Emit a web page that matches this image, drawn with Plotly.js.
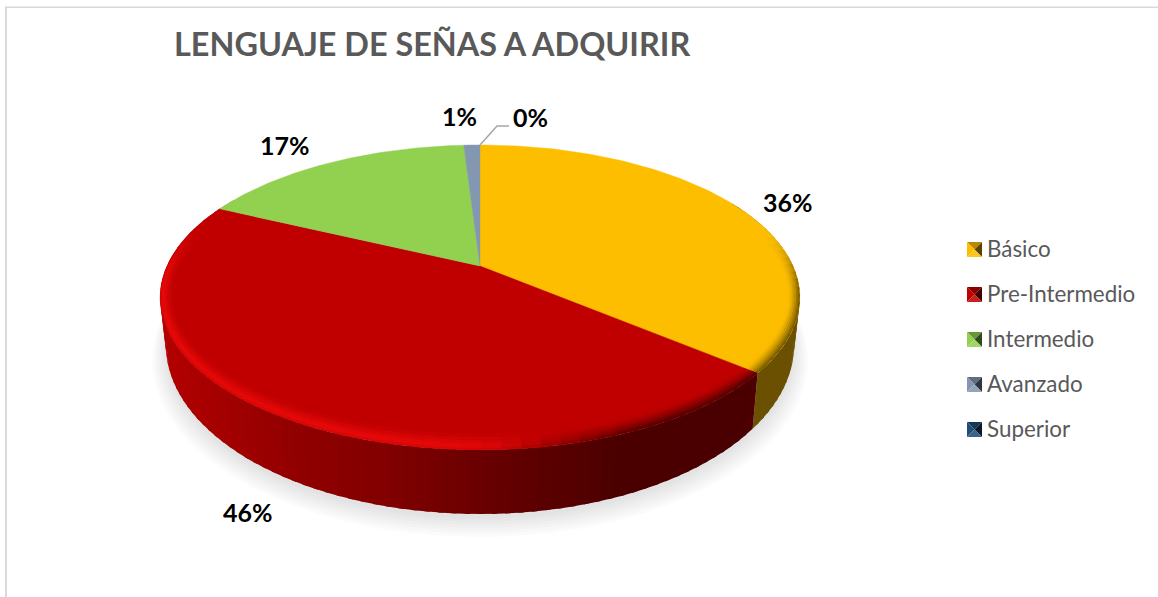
<!DOCTYPE html>
<html><head><meta charset="utf-8">
<script src="https://cdn.plot.ly/plotly-3.0.1.min.js"></script>
<style>html,body{margin:0;padding:0;background:#fff}#chart{width:1158px;height:597px}</style>
</head><body><div id="chart"></div>
<script>
var chartTitle = "LENGUAJE DE SEÑAS A ADQUIRIR";
var categories = ["Básico", "Pre-Intermedio", "Intermedio", "Avanzado", "Superior"];
var values = [36, 46, 17, 1, 0];
var sliceColors = ["#FDBE00", "#C00000", "#92D050", "#8497B0", "#1F4E79"];
var labelX = [788, 248, 285, 459, 530];
var labelY = [202, 512, 145, 116, 117];

// projection of the tilted disc (perspective view)
var cx = 480, p = 0.206, R = 313;
var top_ = {cy: 266, S: 146, k: 1}, bot = {cy: 310, S: 162, k: 0.982};
function proj(deg, plane, rr, dy) {
  var t = deg * Math.PI / 180, r = rr === undefined ? 1 : rr;
  var u = r * Math.sin(t), v = r * Math.cos(t), d = 1 + p * v;
  return [cx + plane.k * R * u / d, plane.cy - plane.S * v / d + (dy || 0)];
}
function rgb(h){return [parseInt(h.substr(1,2),16),parseInt(h.substr(3,2),16),parseInt(h.substr(5,2),16)];}
function css(c){return "rgb("+c.map(function(a){return Math.max(0,Math.min(255,Math.round(a)));}).join(",")+")";}
function mix(a,b,k){return a.map(function(x,i){return x+(b[i]-x)*k;});}
function mul(a,k){return a.map(function(x){return x*k;});}
var shadeTable = [[150,.93],[170,.92],[300,.75],[380,.68],[480,.55],[620,.39],[750,.385],[760,.42],[810,.42]];
function shade(x){
  for (var i=1;i<shadeTable.length;i++){ if (x<=shadeTable[i][0]) {
    var a=shadeTable[i-1], b=shadeTable[i]; return a[1]+(b[1]-a[1])*Math.max(0,(x-a[0])/(b[0]-a[0])); } }
  return .42;
}
function sstep(a,b,x){var t=Math.max(0,Math.min(1,(x-a)/(b-a)));return t*t*(3-2*t);}

var traces = [];
function poly(xs, ys, color, lw) {
  traces.push({type:"scatter", mode:"lines", x:xs, y:ys, fill:"toself", fillcolor:color,
    line:{color: lw ? color : "rgba(0,0,0,0)", width: lw || 0}, hoverinfo:"skip", showlegend:false});
}
function arc(a, b, plane, rr, dy){
  var n = Math.max(1, Math.ceil(b - a)), xs=[], ys=[];
  for (var i=0;i<=n;i++){ var q = proj(a+(b-a)*i/n, plane, rr, dy); xs.push(q[0]); ys.push(q[1]); }
  return [xs, ys];
}

// soft shadow under the disc
for (var s=0; s<7; s++) {
  var sh = arc(0, 360, bot, 1.0 + s*0.007, 5 + s*1.2);
  poly(sh[0], sh[1], "rgba(0,0,0,0.016)");
}

// slice angle ranges from the values
var total = values.reduce(function(a,b){return a+b;},0), angles=[], acc=0;
values.forEach(function(v){ angles.push([acc, acc + v/total*360]); acc += v/total*360; });

// side wall: each strip slightly overlaps the next, which paints over it
angles.forEach(function(ab,i){
  var a=Math.max(ab[0],62), b=Math.min(ab[1],300);
  if (b<=a) return;
  var n=Math.ceil((b-a)/2), base=rgb(sliceColors[i]);
  for (var j=0;j<n;j++){
    var t0=a+(b-a)*j/n, t1=a+(b-a)*(j+1)/n, te=Math.min(b,t1+0.8);
    var A=proj(t0,top_),B=proj(te,top_),C=proj(te,bot),D=proj(t0,bot);
    var xm=(proj(t0,top_)[0]+proj(t1,top_)[0])/2;
    poly([A[0],B[0],C[0],D[0],A[0]],[A[1],B[1],C[1],D[1],A[1]],css(mul(base,shade(xm))));
  }
});

// top face
angles.forEach(function(ab,i){
  if (ab[1]<=ab[0]) return;
  var e=arc(ab[0],ab[1],top_);
  poly([cx].concat(e[0],[cx]),[top_.cy].concat(e[1],[top_.cy]),sliceColors[i],0.4);
});

// rounded bevel along the front rim; near a slice joint its inward offset turns along the joint
var ringEdges=[0,.1,.2,.32,.46,.62,.8,1], joint=angles[0][1];
function ringPt(deg,w){
  var q=proj(deg,top_),t=deg*Math.PI/180;
  var ox=-w*12*Math.sin(t), oy=w*16*Math.cos(t);
  var d=Math.abs(deg-joint);
  if (d<5) {
    var rx=cx-q[0], ry=top_.cy-q[1], L=Math.sqrt(rx*rx+ry*ry), m=w*14, f=1-d/5;
    ox+= (rx/L*m-ox)*f; oy+=(ry/L*m-oy)*f;
  }
  return [q[0]+ox,q[1]+oy];
}
angles.forEach(function(ab,i){
  var a=Math.max(ab[0],72), b=Math.min(ab[1],292);
  if (b<=a) return;
  var n=Math.ceil((b-a)/3), base=rgb(sliceColors[i]);
  var hi=base.map(function(x){return Math.min(255,x*1.16+10);});
  for (var j=0;j<n;j++){
    var t0=a+(b-a)*j/n, t1=a+(b-a)*(j+1)/n, tm=(t0+t1)/2, xm=proj(tm,top_)[0];
    var te=Math.min(b,t1+0.8);
    var Lw=(1-sstep(440,590,xm))*(1-sstep(262,292,tm));
    var Dw=sstep(470,660,xm)*sstep(74,105,tm);
    for (var r=0;r<ringEdges.length-1;r++){
      var w0=ringEdges[r], w1=ringEdges[r+1]+.03, w=(ringEdges[r]+ringEdges[r+1])/2;
      var kL = w<.22 ? .45+.55*(w/.22) : 1-(w-.22)/.78;
      var side = mul(base,shade(xm));
      var c = mix(base,hi,kL*Lw);
      c = mix(c,side,Math.pow(1-w,1.5)*Dw);
      var A=ringPt(t0,w0),B=ringPt(te,w0),C=ringPt(te,w1),D=ringPt(t0,w1);
      poly([A[0],B[0],C[0],D[0],A[0]],[A[1],B[1],C[1],D[1],A[1]],css(c));
    }
  }
});

// legend entries (bevelled keys are drawn as shapes on top)
categories.forEach(function(name,i){
  traces.push({type:"scatter",mode:"markers",x:[null],y:[null],name:name,legendgroup:"g"+i,
    marker:{symbol:"square",size:15,color:"rgba(0,0,0,0)"},showlegend:true,hoverinfo:"skip"});
});

var shapes=[
  {type:"rect",xref:"x",yref:"y",x0:5,x1:7,y0:6.5,y1:597,fillcolor:"#d9d9d9",line:{width:0},layer:"below"},
  {type:"rect",xref:"x",yref:"y",x0:5,x1:1158,y0:6.5,y1:8,fillcolor:"#d9d9d9",line:{width:0},layer:"below"},
  {type:"path",xref:"x",yref:"y",path:"M 480 145 L 497 126 L 509 126",line:{color:"#a6a6a6",width:1.5}}
];
categories.forEach(function(n,i){
  var x0=967,x1=982,xc=974.5,yc=249.5+45*i,y0=yc-7.5,y1=yc+7.5,b=rgb(sliceColors[i]);
  var tris=[
    ["M "+x0+" "+y0+" L "+x1+" "+y0+" L "+xc+" "+yc+" Z",mul(b,.72)],
    ["M "+x0+" "+y0+" L "+x0+" "+y1+" L "+xc+" "+yc+" Z",mul(b,1)],
    ["M "+x1+" "+y0+" L "+x1+" "+y1+" L "+xc+" "+yc+" Z",mul(b,.35)],
    ["M "+x0+" "+y1+" L "+x1+" "+y1+" L "+xc+" "+yc+" Z",mix(b,[255,255,255],.12)]
  ];
  tris.forEach(function(t){shapes.push({type:"path",xref:"x",yref:"y",path:t[0],fillcolor:css(t[1]),line:{width:0},layer:"above"});});
});

var annotations=values.map(function(v,i){
  return {xref:"x",yref:"y",x:labelX[i],y:labelY[i],text:v+"%",showarrow:false,xanchor:"center",yanchor:"middle",
    font:{family:"Lato, sans-serif",size:25,color:"#000",weight:700}};
});

Plotly.newPlot("chart",traces,{
  width:1158,height:597,margin:{l:0,r:0,t:0,b:0,pad:0},
  paper_bgcolor:"#fff",plot_bgcolor:"#fff",
  title:{text:chartTitle,x:174/1158,xanchor:"left",y:1-45/597,yanchor:"middle",
    font:{family:"Lato, sans-serif",size:32.4,color:"#595959",weight:700}},
  xaxis:{range:[0,1158],visible:false,fixedrange:true},
  yaxis:{range:[597,0],visible:false,fixedrange:true},
  showlegend:true,
  legend:{x:947/1158,xanchor:"left",y:1-227/597,yanchor:"top",tracegroupgap:13,
    font:{family:"Lato, sans-serif",size:22.4,color:"#595959"},bgcolor:"rgba(0,0,0,0)"},
  shapes:shapes,annotations:annotations
},{displayModeBar:false,staticPlot:true});
</script></body></html>
